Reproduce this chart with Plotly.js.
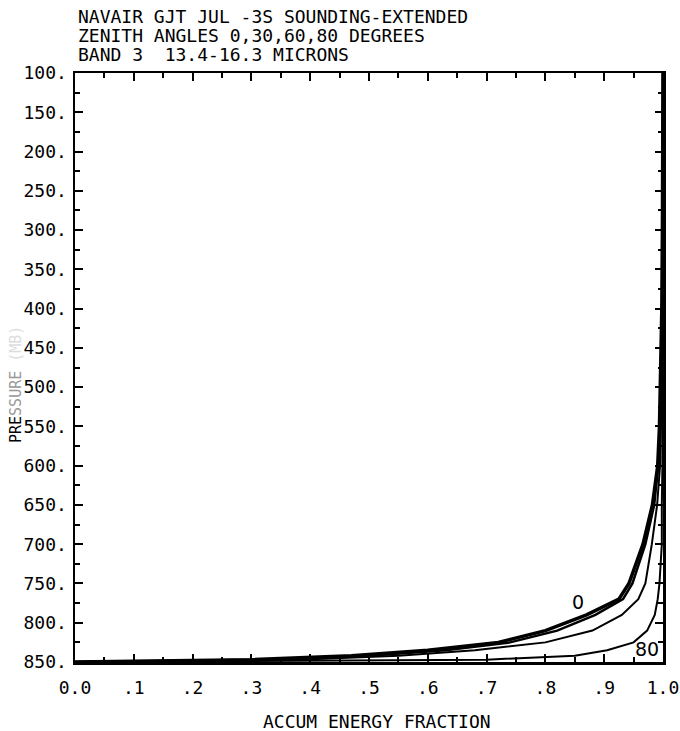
<!DOCTYPE html>
<html>
<head>
<meta charset="utf-8">
<script src="https://cdn.plot.ly/plotly-3.0.1.min.js"></script>
<style>html,body{margin:0;padding:0;background:#fff;}#chart{width:680px;height:731px;}</style>
</head>
<body>
<div id="chart"></div>
<script>
// Pressure levels (mb)
const pressure = [100, 200, 300, 400, 450, 500, 550, 600, 650, 700, 750, 770, 790, 810, 825, 835, 842, 847, 850];
// Accumulated energy fraction per zenith angle
const frac0  = [1.000, 1.000, 0.999, 0.998, 0.997, 0.996, 0.994, 0.991, 0.982, 0.966, 0.942, 0.925, 0.870, 0.800, 0.720, 0.600, 0.470, 0.300, 0.000];
const frac30 = [1.000, 1.000, 1.000, 0.999, 0.998, 0.997, 0.995, 0.992, 0.985, 0.970, 0.948, 0.932, 0.885, 0.820, 0.740, 0.630, 0.500, 0.330, 0.000];
const frac60 = [1.000, 1.000, 1.000, 1.000, 0.999, 0.998, 0.997, 0.995, 0.990, 0.981, 0.970, 0.958, 0.930, 0.880, 0.800, 0.680, 0.550, 0.380, 0.000];
const frac80 = [1.000, 1.000, 1.000, 1.000, 1.000, 1.000, 1.000, 0.999, 0.998, 0.998, 0.994, 0.991, 0.986, 0.973, 0.950, 0.905, 0.850, 0.700, 0.000];

const xTickVals = [0, 0.1, 0.2, 0.3, 0.4, 0.5, 0.6, 0.7, 0.8, 0.9, 1.0];
const xTickText = ['0.0', '.1', '.2', '.3', '.4', '.5', '.6', '.7', '.8', '.9', '1.0'];
const yTickVals = [100, 150, 200, 250, 300, 350, 400, 450, 500, 550, 600, 650, 700, 750, 800, 850];
const yTickText = ['100.', '150.', '200.', '250.', '300.', '350.', '400.', '450.', '500.', '550.', '600.', '650.', '700.', '750.', '800.', '850.'];

const titleLines = ['NAVAIR GJT JUL -3S SOUNDING-EXTENDED', 'ZENITH ANGLES 0,30,60,80 DEGREES', 'BAND 3  13.4-16.3 MICRONS'];
const curveLabels = [{text: '0', x: 0.855, y: 774}, {text: '80', x: 0.973, y: 833}];

const FONT = 'DejaVu Sans Mono, monospace';

const traces = [
  {x: frac0,  y: pressure, mode: 'lines', line: {color: '#000', width: 3.5}, name: '0'},
  {x: frac30, y: pressure, mode: 'lines', line: {color: '#000', width: 2.5}, name: '30'},
  {x: frac60, y: pressure, mode: 'lines', line: {color: '#000', width: 2}, name: '60'},
  {x: frac80, y: pressure, mode: 'lines', line: {color: '#000', width: 2}, name: '80'}
];

const annotations = [];
const titleY = [17, 36, 54.5];
titleLines.forEach((t, i) => {
  annotations.push({
    text: t, xref: 'paper', yref: 'paper',
    x: 2/588, y: (662 - titleY[i]) / 589,
    xanchor: 'left', yanchor: 'middle', showarrow: false,
    height: 17, borderpad: 0, valign: 'middle',
    font: {family: FONT, size: 18, color: '#000'}
  });
});
curveLabels.forEach(c => {
  annotations.push({
    text: c.text, x: c.x, y: c.y, xref: 'x', yref: 'y', showarrow: false,
    xanchor: 'center', yanchor: 'middle',
    font: {family: 'DejaVu Sans, sans-serif', size: 19, color: '#000'}
  });
});
annotations.push({
  text: "PRE<span style='color:#999'>SSURE</span><span style='color:#ddd'> (MB)</span>",
  xref: 'paper', yref: 'paper', x: (16 - 75) / 588, y: (662 - 385) / 589,
  xanchor: 'center', yanchor: 'middle', textangle: -90, showarrow: false,
  font: {family: FONT, size: 15, color: '#000'}
});
annotations.push({
  text: 'ACCUM ENERGY FRACTION', xref: 'paper', yref: 'paper',
  x: (377 - 75) / 588, y: (662 - 721) / 589, xanchor: 'center', yanchor: 'middle',
  showarrow: false, font: {family: FONT, size: 18, color: '#000'}
});

const layout = {
  width: 680, height: 731,
  margin: {l: 75, r: 17, t: 73, b: 69, pad: 0},
  paper_bgcolor: '#fff', plot_bgcolor: '#fff',
  showlegend: false,
  font: {family: FONT, size: 18, color: '#000'},
  xaxis: {
    range: [0, 1], tickvals: xTickVals, ticktext: xTickText,
    ticks: 'inside', ticklen: 8, tickwidth: 2, tickcolor: '#000',
    showline: true, linewidth: 2.5, linecolor: '#000', mirror: 'allticks',
    showgrid: false, zeroline: false,
    tickfont: {family: FONT, size: 18, color: '#000'},
    ticklabelstandoff: 8,
    minor: {dtick: 0.05, tick0: 0, ticks: 'inside', ticklen: 5, tickwidth: 2, tickcolor: '#000', showgrid: false}
  },
  yaxis: {
    range: [850, 100], tickvals: yTickVals, ticktext: yTickText,
    ticks: 'inside', ticklen: 8, tickwidth: 2, tickcolor: '#000',
    showline: true, linewidth: 2.5, linecolor: '#000', mirror: 'allticks',
    showgrid: false, zeroline: false,
    tickfont: {family: FONT, size: 18, color: '#000'},
    ticklabelstandoff: 2,
    minor: {dtick: 25, tick0: 100, ticks: 'inside', ticklen: 5, tickwidth: 2, tickcolor: '#000', showgrid: false}
  },
  annotations: annotations
};

Plotly.newPlot('chart', traces, layout, {staticPlot: true, displayModeBar: false});
</script>
</body>
</html>
